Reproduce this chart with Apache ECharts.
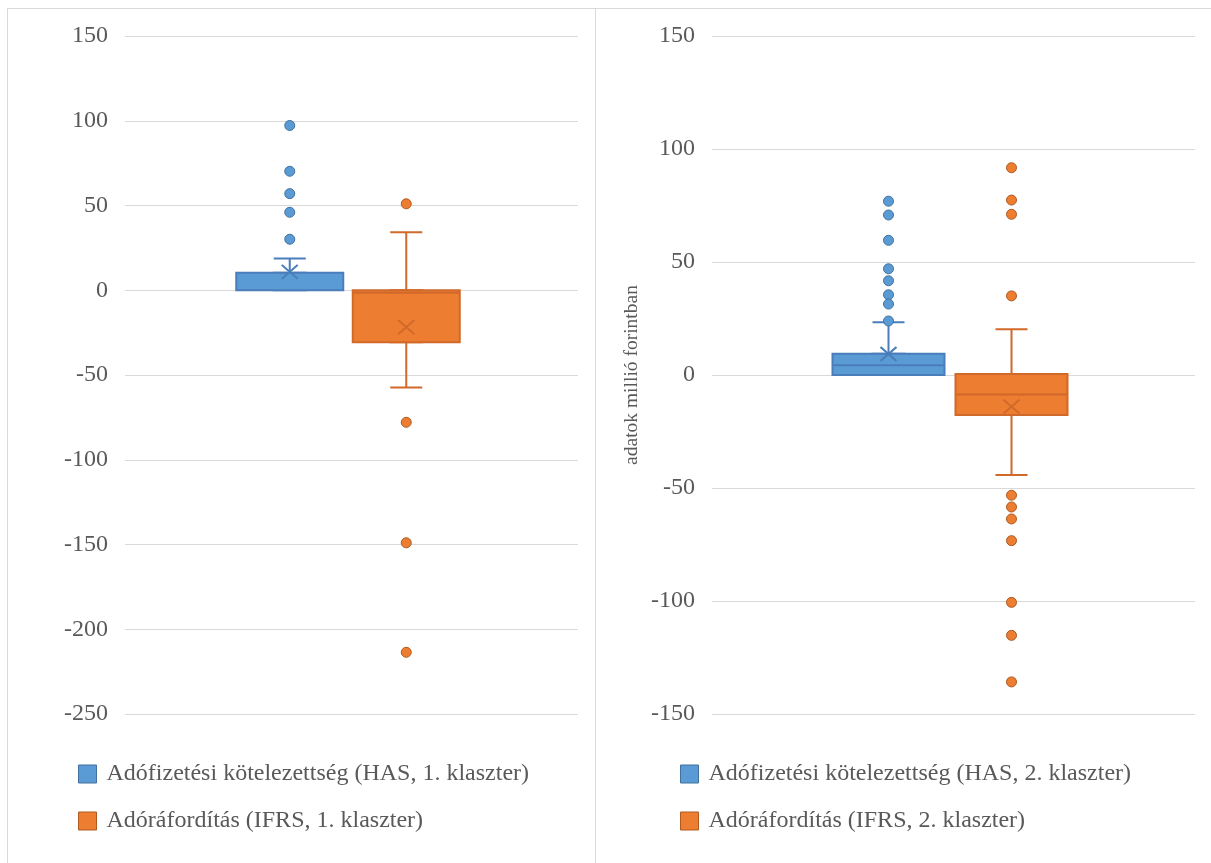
<!DOCTYPE html>
<html><head><meta charset="utf-8">
<script src="https://cdn.jsdelivr.net/npm/echarts@6/dist/echarts.min.js"></script>
<style>html,body{margin:0;padding:0;background:#fff}#c{width:1211px;height:863px}</style>
</head><body><div id="c"></div>
<script>
// category slots on the hidden x axis (boxes sit in slots 2 and 3)
const slots = ['s0', 'HAS', 'IFRS', 's3'];
const legendNames1 = ['Adófizetési kötelezettség (HAS, 1. klaszter)', 'Adóráfordítás (IFRS, 1. klaszter)'];
const legendNames2 = ['Adófizetési kötelezettség (HAS, 2. klaszter)', 'Adóráfordítás (IFRS, 2. klaszter)'];
const yAxisTitle = 'adatok millió forintban';
// [min, Q1, median, Q3, max]
const box1Has = [0, 0, 0, 10.3, 18.7];
const box1Ifrs = [-57.4, -30.7, -1.5, 0, 34.2];
const mean1 = [10.8, -21.8];
const out1Has = [97.2, 70.2, 57, 46, 30.1];
const out1Ifrs = [51, -77.9, -149, -213.6];
const box2Has = [0, 0, 4.3, 9.4, 23.3];
const box2Ifrs = [-44.2, -17.7, -8.6, 0.4, 20.2];
const mean2 = [9.3, -14];
const out2Has = [76.9, 70.8, 59.6, 47, 41.7, 35.5, 31.4, 23.9];
const out2Ifrs = [91.7, 77.4, 71.1, 35, -53.2, -58.4, -63.7, -73.3, -100.6, -115.2, -135.8];
const yRange1 = [-250, 150];
const yRange2 = [-150, 150];
const yStep = 50;

const C = {
  has: { fill: '#5B9BD5', line: '#4A7EBB', dark: '#41719C' },
  ifrs: { fill: '#ED7D31', line: '#D0692A', dark: '#AE5A21' }
};
const FONT = 'Liberation Serif';
const TXT = '#595959';

const grids = [], xAxes = [], yAxes = [], series = [], legends = [];

// each panel: grid A shows the value axis & gridlines, grid B (same vertical extent) holds the marks
function panel(p, gridA, gridB, yRange, boxes, means, outs, names, withTitle, legendLeft, boxW) {
  const gA = grids.length, gB = gA + 1;
  grids.push(Object.assign({ top: 36, height: 678 }, gridA));
  grids.push(Object.assign({ top: 36, height: 678 }, gridB));
  const xA = xAxes.length;
  xAxes.push({ type: 'category', gridIndex: gA, data: slots, show: false });
  xAxes.push({ type: 'category', gridIndex: gB, data: slots, show: false, position: 'bottom' });
  xAxes.push({ type: 'category', gridIndex: gB, data: slots, show: false, position: 'top' });
  const yA = yAxes.length;
  yAxes.push({
    type: 'value', gridIndex: gA, min: yRange[0], max: yRange[1], interval: yStep,
    axisLine: { show: false }, axisTick: { show: false },
    axisLabel: { fontFamily: FONT, fontSize: 24, color: TXT, margin: 17 },
    splitLine: { lineStyle: { color: '#D9D9D9', width: 1 } },
    name: withTitle ? yAxisTitle : '', nameLocation: 'middle', nameGap: 70, nameRotate: 90,
    nameTextStyle: { fontFamily: FONT, fontSize: 19.5, color: TXT }
  });
  yAxes.push({ type: 'value', gridIndex: gB, min: yRange[0], max: yRange[1], interval: yStep, show: false, splitLine: { show: false } });
  const yB = yA + 1;
  // an empty series so grid A's axes are used
  series.push({ type: 'scatter', xAxisIndex: xA, yAxisIndex: yA, data: [], silent: true });
  const keys = ['has', 'ifrs'];
  const xs = ['HAS', 'IFRS'];
  // whiskers (narrow boxplot behind the box)
  series.push({
    type: 'boxplot', xAxisIndex: xA + 2, yAxisIndex: yB, boxWidth: [32, 32], z: 2,
    encode: { x: 0, y: [1, 2, 3, 4, 5] }, silent: true,
    data: boxes.map((b, i) => ({
      value: [xs[i], b[0], b[1], b[1], b[3], b[4]],
      itemStyle: { color: C[keys[i]].fill, borderColor: C[keys[i]].line, borderWidth: 2 }
    }))
  });
  // boxes
  series.push({
    type: 'boxplot', xAxisIndex: xA + 1, yAxisIndex: yB, boxWidth: [boxW, boxW], z: 3,
    encode: { x: 0, y: [1, 2, 3, 4, 5] }, silent: true,
    data: boxes.map((b, i) => ({
      value: [xs[i], b[1], b[1], b[2], b[3], b[3]],
      itemStyle: { color: C[keys[i]].fill, borderColor: C[keys[i]].line, borderWidth: 2 }
    }))
  });
  // means
  series.push({
    type: 'scatter', xAxisIndex: xA + 1, yAxisIndex: yB, z: 4, silent: true,
    symbol: 'path://M0,0L10,10M10,0L0,10', symbolSize: [16, 14],
    data: means.map((m, i) => ({
      value: [xs[i], m],
      itemStyle: { color: 'none', borderColor: C[keys[i]].line, borderWidth: 2, opacity: 1 }
    }))
  });
  // outliers
  outs.forEach((o, i) => {
    series.push({
      type: 'scatter', name: names[i], xAxisIndex: xA + 1, yAxisIndex: yB, z: 5,
      symbol: 'circle', symbolSize: 10,
      itemStyle: { color: C[keys[i]].fill, borderColor: C[keys[i]].dark, borderWidth: 1, opacity: 1 },
      data: o.map(v => [xs[i], v])
    });
  });
  legends.push({
    orient: 'vertical', left: legendLeft, top: 762, itemWidth: 18, itemHeight: 18, itemGap: 23,
    padding: 0, selectedMode: false,
    textStyle: { fontFamily: FONT, fontSize: 24, color: TXT, padding: [0, 0, 0, 5] },
    data: names.map((n, i) => ({
      name: n, icon: 'rect',
      itemStyle: { color: C[keys[i]].fill, borderColor: C[keys[i]].dark, borderWidth: 1, opacity: 1 }
    }))
  });
}

panel(0, { left: 125, width: 453 }, { left: 115, width: 466 }, yRange1,
  [box1Has, box1Ifrs], mean1, [out1Has, out1Ifrs], legendNames1, false, 78, 107);
panel(1, { left: 712, width: 483 }, { left: 704, width: 492 }, yRange2,
  [box2Has, box2Ifrs], mean2, [out2Has, out2Ifrs], legendNames2, true, 680, 112);

const chart = echarts.init(document.getElementById('c'), null, { renderer: 'canvas' });
chart.setOption({
  backgroundColor: '#fff',
  animation: false,
  grid: grids, xAxis: xAxes, yAxis: yAxes, series: series, legend: legends,
  graphic: [
    { type: 'line', shape: { x1: 7, y1: 8.5, x2: 1211, y2: 8.5 }, style: { stroke: '#D9D9D9', lineWidth: 1 } },
    { type: 'line', shape: { x1: 7.5, y1: 8, x2: 7.5, y2: 863 }, style: { stroke: '#D9D9D9', lineWidth: 1 } },
    { type: 'line', shape: { x1: 595.5, y1: 8, x2: 595.5, y2: 863 }, style: { stroke: '#D9D9D9', lineWidth: 1 } }
  ]
});
</script></body></html>
